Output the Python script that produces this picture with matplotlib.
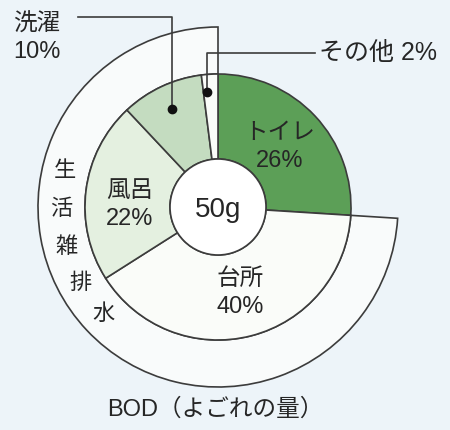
import numpy as np
import matplotlib
matplotlib.use("Agg")
import matplotlib.pyplot as plt
from matplotlib.patches import Circle

# latin glyphs from Liberation Sans, kana/kanji from Noto
plt.rcParams["font.family"] = ["Liberation Sans", "Noto Sans CJK JP", "DejaVu Sans"]

# BOD share by source (clockwise from the top)
labels = ["トイレ", "台所", "風呂", "洗濯", "その他"]
shares = [26, 40, 22, 10, 2]
colors = ["#5c9f57", "#fafcf9", "#e4f0e0", "#c4dcc0", "#fafcf9"]

# outer ring: toilet vs. grey water (生活雑排水)
outer_shares = [26, 74]
outer_label = "生活雑排水"
total_text = "50g"
title = "BOD（よごれの量）"

bg = "#edf4f9"
line_col = "#3c3c3c"
text_col = "#262626"

fig = plt.figure(figsize=(4.5, 4.3), dpi=100, facecolor=bg)
ax = fig.add_axes([0, 0, 1, 1])
ax.set_facecolor(bg)

r_hole, r_inner, r_outer = 48, 133, 180

# outer ring (only the grey-water part is drawn)
outer, _ = ax.pie(outer_shares, radius=r_outer, startangle=90, counterclock=False,
                  colors=["none", "#f9fbfb"],
                  wedgeprops=dict(width=r_outer - r_inner, edgecolor=line_col, linewidth=1.2))
outer[0].set_edgecolor("none")

# inner ring
wedges, _ = ax.pie(shares, radius=r_inner, startangle=90, counterclock=False,
                   colors=colors,
                   wedgeprops=dict(width=r_inner - r_hole, edgecolor=line_col, linewidth=1.2))

# pie() resets the limits, so set them afterwards
ax.set_xlim(-218, 232)
ax.set_ylim(-223, 207)
ax.set_aspect("equal")
ax.axis("off")

ax.add_patch(Circle((0, 0), r_hole, facecolor="white", edgecolor=line_col, linewidth=1.2, zorder=3))
ax.text(0, -3, total_text, ha="center", va="center", fontsize=20, color=text_col, zorder=4)

# labels inside the ring
inside = {0: (62, 60), 1: (22, -86), 2: (-88, 2)}
for i, (x, y) in inside.items():
    ax.text(x, y, f"{labels[i]}\n{shares[i]}%", ha="center", va="center",
            fontsize=17, color=text_col, linespacing=1.35)


# small slices get a dot and a leader line
def mid_angle(i):
    start = 90 - 360 * sum(shares[:i]) / 100
    return np.deg2rad(start - 180 * shares[i] / 100)


# 洗濯
a = mid_angle(3)
dx, dy = 108 * np.cos(a), 108 * np.sin(a)
ax.plot([dx, dx, -140], [dy, 190, 190], color=line_col, lw=1.2)
ax.plot(dx, dy, "o", color="#111111", ms=6)
ax.text(-205, 169, f"{labels[3]}\n{shares[3]}%", ha="left", va="center",
        fontsize=17, color=text_col, linespacing=1.3)

# その他
a = mid_angle(4)
dx, dy = 115 * np.cos(a), 115 * np.sin(a)
dx -= 4
ax.plot([dx, dx, 97], [dy, 154, 154], color=line_col, lw=1.2)
ax.plot(dx, dy, "o", color="#111111", ms=6)
ax.text(101, 154, f"{labels[4]} {shares[4]}%", ha="left", va="center",
        fontsize=18, color=text_col)

# vertical label along the outer ring
for ch, ang in zip(outer_label, np.linspace(167, 223, len(outer_label))):
    t = np.deg2rad(ang)
    ax.text(157 * np.cos(t), 157 * np.sin(t), ch, ha="center", va="center",
            fontsize=16, color=text_col)

ax.text(-3, -203, title, ha="center", va="center", fontsize=17, color=text_col)

fig.savefig("out.png", dpi=100, facecolor=bg)
